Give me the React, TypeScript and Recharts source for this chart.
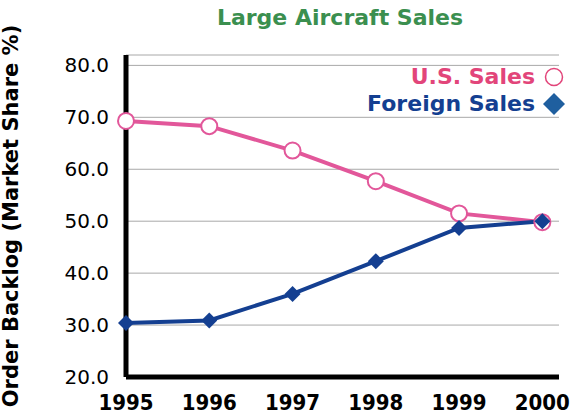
import { CartesianGrid, Line, LineChart, XAxis, YAxis } from "recharts";

const years = [1995, 1996, 1997, 1998, 1999, 2000];
const usSales = [69.3, 68.3, 63.6, 57.7, 51.5, 49.8];
const foreignSales = [30.4, 30.9, 36.0, 42.3, 48.7, 50.0];
const yTicks = [20, 30, 40, 50, 60, 70, 80];

const data = years.map((year, i) => ({
    year,
    us: usSales[i],
    foreign: foreignSales[i],
}));

const PINK = "#e2579a";
const NAVY = "#143f91";
const WIDE = "DejaVu Sans, Verdana, sans-serif";

const Diamond = (props: any) => {
    const { cx, cy } = props;
    if (cx == null || cy == null) return null;
    const s = 8;
    return <path d={`M${cx},${cy - s}L${cx + s},${cy}L${cx},${cy + s}L${cx - s},${cy}Z`} fill={NAVY} />;
};

export default function App() {
    return (
        <div style={{ position: "absolute", left: 0, top: 0, width: 577, height: 417, background: "#fff" }}>
            <LineChart width={577} height={417} data={data} margin={{ top: 55, right: 18, bottom: 0, left: 0 }}>
                <CartesianGrid horizontal={true} vertical={false} stroke="#a8a8a8" strokeWidth={1} />
                <XAxis
                    dataKey="year"
                    type="number"
                    domain={[1995, 2000.2]}
                    ticks={years}
                    interval={0}
                    height={40}
                    axisLine={{ stroke: "#000", strokeWidth: 5 }}
                    tickLine={false}
                    tick={{ fill: "#000", fontSize: 22, fontWeight: "bold", fontFamily: "DejaVu Sans Condensed, DejaVu Sans, sans-serif" }}
                    tickMargin={11}
                />
                <YAxis
                    type="number"
                    domain={[20, 82]}
                    ticks={yTicks}
                    interval={0}
                    width={126}
                    axisLine={{ stroke: "#000", strokeWidth: 5 }}
                    tickLine={false}
                    tickFormatter={(v) => v.toFixed(1)}
                    tick={{ fill: "#000", fontSize: 20, fontFamily: WIDE }}
                    tickMargin={11}
                    label={{
                        value: "Order Backlog (Market Share %)",
                        angle: -90,
                        position: "insideLeft",
                        dx: 6,
                        dy: 0,
                        style: { fill: "#000", fontSize: 21, fontWeight: "bold", fontFamily: WIDE, textAnchor: "middle" },
                    }}
                />
                <Line
                    dataKey="us"
                    stroke={PINK}
                    strokeWidth={4}
                    dot={{ r: 8, fill: "#fff", stroke: PINK, strokeWidth: 2 }}
                    isAnimationActive={false}
                />
                <Line
                    dataKey="foreign"
                    stroke={NAVY}
                    strokeWidth={4}
                    dot={<Diamond />}
                    isAnimationActive={false}
                />
            </LineChart>
            <div style={{ position: "absolute", left: 140, top: 5, width: 400, textAlign: "center", whiteSpace: "nowrap", fontFamily: WIDE, fontWeight: "bold", fontSize: 22, color: "#3b8f4f" }}>
                Large Aircraft Sales
            </div>
            <div style={{ position: "absolute", right: 12, top: 63, fontFamily: WIDE, fontWeight: "bold", fontSize: 22, textAlign: "right", lineHeight: "27px", whiteSpace: "nowrap" }}>
                <div style={{ color: "#e2457a" }}>
                    U.S. Sales
                    <svg width={30} height={20} style={{ verticalAlign: "-3px" }}>
                        <circle cx={19} cy={10} r={8.5} fill="#fff" stroke="#e2457a" strokeWidth={1.5} />
                    </svg>
                </div>
                <div style={{ color: NAVY }}>
                    Foreign Sales
                    <svg width={30} height={24} style={{ verticalAlign: "-5px" }}>
                        <path d="M19,1L30,12L19,23L8,12Z" fill="#1f5f9f" />
                    </svg>
                </div>
            </div>
        </div>
    );
}
